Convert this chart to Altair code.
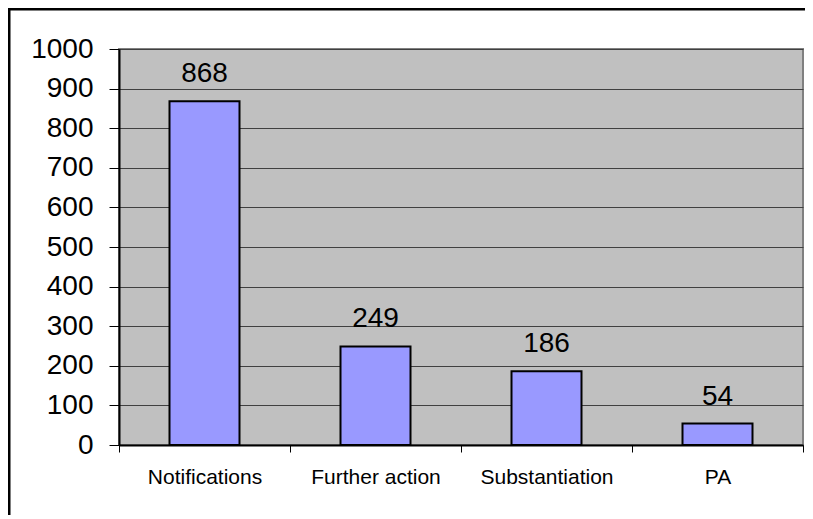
import altair as alt
import pandas as pd

categories = ["Notifications", "Further action", "Substantiation", "PA"]
values = [868, 249, 186, 54]
y_ticks = [0, 100, 200, 300, 400, 500, 600, 700, 800, 900, 1000]

df = pd.DataFrame({"category": categories, "value": values})

FONT = "Liberation Sans"

x_enc = alt.X(
    "category:N",
    sort=categories,
    title=None,
    scale=alt.Scale(paddingInner=0, paddingOuter=0),
    axis=alt.Axis(
        labelAngle=0,
        labelFontSize=21,
        labelFont=FONT,
        labelColor="black",
        labelPadding=14,
        tickBand="extent",
        tickSize=7,
        tickColor="black",
        domainColor="black",
        domainWidth=2,
        grid=False,
    ),
)
y_enc = alt.Y(
    "value:Q",
    title=None,
    scale=alt.Scale(domain=[0, 1000], nice=False),
    axis=alt.Axis(
        values=y_ticks,
        format="d",
        labelOverlap=False,
        labelFontSize=28,
        labelFont=FONT,
        labelColor="black",
        labelPadding=16,
        tickSize=10,
        tickColor="black",
        domainColor="black",
        domainWidth=2,
        gridColor="#404040",
        gridWidth=1,
        gridOpacity=1,
    ),
)

base = alt.Chart(df)

bars = base.mark_bar(
    size=70, color="#9999FF", stroke="black", strokeWidth=2
).encode(x=x_enc, y=y_enc)

labels = base.mark_text(
    baseline="alphabetic", dy=-19, fontSize=28, font=FONT, color="black"
).encode(x=x_enc, y=y_enc, text="value:Q")

frame_top = alt.Chart(pd.DataFrame({"a": [0]})).mark_rule(
    color="black", strokeWidth=3, clip=False
).encode(x=alt.value(-111), x2=alt.value(690), y=alt.value(-40))
frame_left = alt.Chart(pd.DataFrame({"a": [0]})).mark_rule(
    color="black", strokeWidth=3, clip=False
).encode(x=alt.value(-110), y=alt.value(-41), y2=alt.value(480))

chart = (
    alt.layer(bars, labels, frame_top, frame_left)
    .properties(
        width=684,
        height=396,
        autosize=alt.AutoSizeParams(type="none"),
        padding={"left": 111, "top": 41, "right": 2, "bottom": 70},
        background="white",
    )
    .configure_view(fill="#C0C0C0", stroke="#808080", strokeWidth=2)
)

chart.save("out.html", embed_options={"renderer": "svg", "actions": False})
